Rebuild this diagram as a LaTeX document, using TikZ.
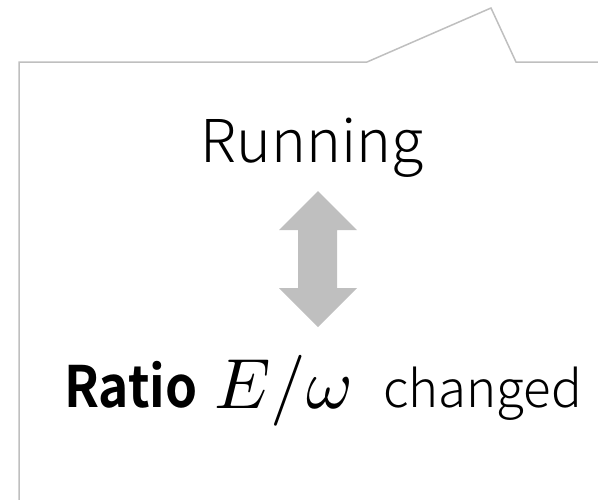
\documentclass[tikz,border=0pt]{standalone}
\usepackage{fontspec}
\usepackage{graphicx}
\newfontfamily\lightjp{Noto Sans CJK JP Light}
\newfontfamily\boldjp[FakeStretch=0.9]{Noto Sans CJK JP Bold}
\begin{document}
\begin{tikzpicture}[x=1pt,y=-1pt,
  outline/.style={draw=black!25, line width=1.5pt, line join=miter},
  fatarrow/.style={fill=black!25, draw=none},
  txt/.style={inner sep=0pt, anchor=base west}]
\useasboundingbox (0,0) rectangle (598,499);
% callout frame with a pointer on the upper right
\draw[outline] (19,505) -- (19,62) -- (367,62) -- (491,8) -- (516,62) -- (605,62);
% caption
\node[inner sep=0pt, anchor=base] (run) at (312,162) {\lightjp\fontsize{59}{59}\selectfont Running};
% double-headed block arrow
\fill[fatarrow] (318,191) -- (357,230) -- (337,230) -- (337,288) -- (357,288)
  -- (318,327) -- (279,288) -- (298,288) -- (298,230) -- (279,230) -- cycle;
% bottom line
\node[txt] (ratio) at (64,407) {\boldjp\fontsize{57}{57}\selectfont Ratio};
\node[txt] (frac) at (214,408) {\scalebox{7.1}{$E/\omega$}};
\node[txt] (chg) at (383,407) {\lightjp\fontsize{51}{51}\selectfont changed};
\end{tikzpicture}
\end{document}
